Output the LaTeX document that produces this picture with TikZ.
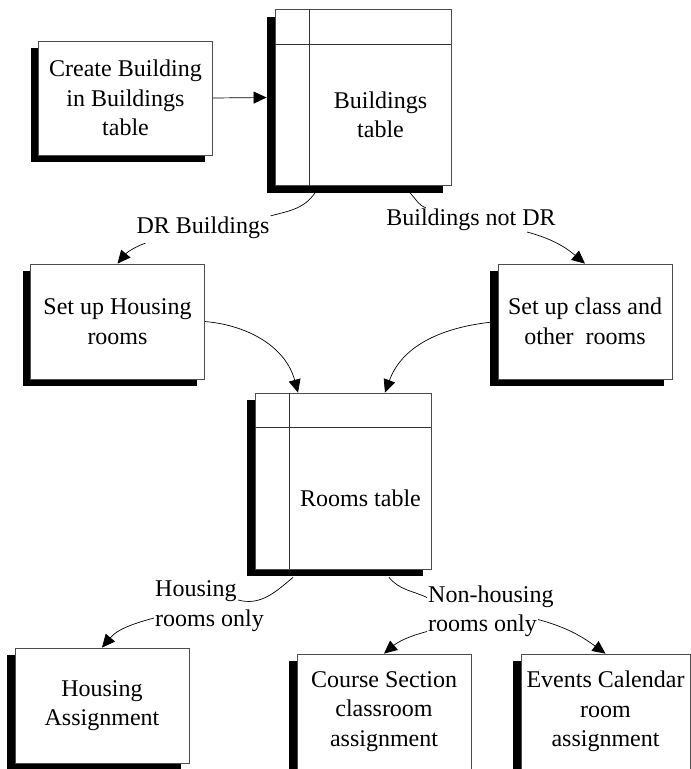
\documentclass[tikz,border=0pt]{standalone}
\usepackage{fontspec}
\setmainfont{Liberation Serif}
\usetikzlibrary{arrows.meta,shadows}

\tikzset{
  boxfont/.style={font=\fontsize{24}{29.5}\selectfont},
  procbox/.style={boxfont, draw=black!70, line width=0.8pt, fill=white, align=center,
    inner sep=2pt, minimum width=174pt, minimum height=115pt,
    drop shadow={shadow xshift=-8pt, shadow yshift=-7pt, opacity=1, fill=black}},
  tablebox/.style={procbox, minimum width=176pt, minimum height=176pt},
  cellline/.style={draw=black!80, line width=0.8pt},
  arr/.style={-{Triangle[length=13pt,width=12pt]}, line width=0.7pt},
  link/.style={line width=0.7pt},
  flowlabel/.style={boxfont, fill=white, inner sep=1pt, align=left},
}

\begin{document}
\begin{tikzpicture}[x=1pt,y=-1pt]
    \path[use as bounding box, clip] (0,0) rectangle (691,769);

    % Buildings
    \node[procbox, minimum height=114pt] (cb) at (125.5,98) {Create Building\\in Buildings\\table};
    \node[tablebox] (bt) at (363,97.5) {};
    \draw[cellline] ([xshift=35pt]bt.north west) -- ([xshift=35pt]bt.south west);
    \draw[cellline] ([yshift=-35pt]bt.north west) -- ([yshift=-35pt]bt.north east);
    \node[boxfont, align=center] (bttext) at ([shift={(17.5,17.5)}]bt.center) {Buildings\\table};

    % Room set up
    \node[procbox] (hs) at (117.5,321.5) {Set up Housing\\rooms};
    \node[procbox] (sc) at (585,321.5) {Set up class and\\other\ \ rooms};

    % Rooms table
    \node[tablebox] (rt) at (343,481) {};
    \draw[cellline] ([xshift=35pt]rt.north west) -- ([xshift=35pt]rt.south west);
    \draw[cellline] ([yshift=-35pt]rt.north west) -- ([yshift=-35pt]rt.north east);
    \node[boxfont] (rttext) at ([shift={(17.5,17.5)}]rt.center) {Rooms table};

    % Assignments
    \node[procbox] (ha) at (102,705.5) {Housing\\Assignment};
    \node[procbox] (cs) at (384,711.5) {Course Section\\classroom\\assignment};
    \node[procbox, minimum width=169pt] (ev) at (605.5,711.5) {Events Calendar\\room\\assignment};

    % Labels
    \node[flowlabel] (drlab) at (203,228) {DR Buildings};
    \node[flowlabel] (ndrlab) at (471,220) {Buildings not DR};
    \node[flowlabel, anchor=west] (hlab) at (154,606) {Housing\\rooms only};
    \node[flowlabel, anchor=west] (nhlab) at (427,611.5) {Non-housing\\rooms only};

    % Connectors
    \draw[arr] (cb.east) -- ([xshift=-8pt]bt.west);
    \draw[link] ([shift={(-48,7)}]bt.south) to[out=235,in=15] (drlab.north east);
    \draw[arr] ([shift={(10,3)}]drlab.south west) to[out=200,in=50] (hs.north);
    \draw[link] ([shift={(47,7)}]bt.south) to[out=-45,in=160] ([xshift=-45pt]ndrlab.north);
    \draw[arr] ([shift={(56,12)}]ndrlab.center) to[out=-15,in=140] (sc.north);
    \draw[arr] (hs.east) to[out=-5,in=105] ([xshift=-45pt]rt.north);
    \draw[arr] (sc.west) to[out=185,in=70] ([xshift=42pt]rt.north);
    \draw[link] ([shift={(-50,8)}]rt.south) to[out=220,in=-15] ([shift={(84,-6)}]hlab.west);
    \draw[arr] ([yshift=-12pt]hlab.west) to[out=195,in=50] (ha.north);
    \draw[link] ([shift={(46,8)}]rt.south) to[out=-50,in=155] ([yshift=14pt]nhlab.west);
    \draw[arr] ([yshift=-20pt]nhlab.west) to[out=195,in=40] (cs.north);
    \draw[arr] ([shift={(111,8)}]nhlab.west) to[out=-15,in=144] (ev.north);
\end{tikzpicture}
\end{document}
